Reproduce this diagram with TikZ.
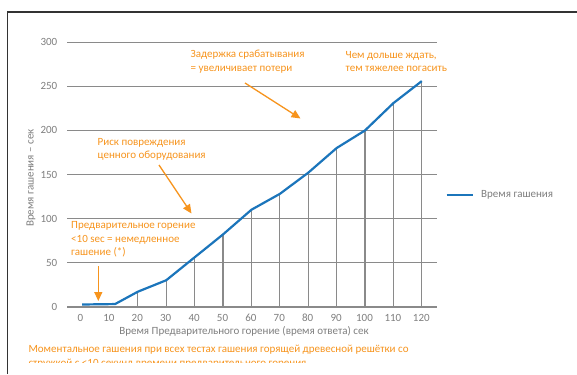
\documentclass[tikz,border=0pt]{standalone}
\usepackage{fontspec}
\setmainfont{Carlito}
\usetikzlibrary{arrows.meta}
\definecolor{orng}{HTML}{F7941D}
\definecolor{blu}{HTML}{1B75BB}
\definecolor{grd}{HTML}{8A8A8A}
\definecolor{lbl}{HTML}{7F7F7F}
\definecolor{frm}{HTML}{333333}
\tikzset{
  grid line/.style={draw=grd, line width=1.6pt},
  drop line/.style={draw=grd, line width=1.3pt},
  tick lab/.style={text=lbl, font=\fontsize{11}{13}\selectfont, inner sep=0pt},
  note/.style={text=orng, font=\fontsize{11}{13.3}\selectfont, align=left, anchor=west, inner sep=0pt},
  note arrow/.style={draw=orng, line width=1.3pt, -{Triangle[length=9pt,width=8pt]}},
  data line/.style={draw=blu, line width=2.2pt, line join=round}
}
\begin{document}
\begin{tikzpicture}[x=1pt,y=-1pt]
\useasboundingbox (0,0) rectangle (577,374);
\fill[white] (0,0) rectangle (577,374);
% frame
\draw[frm, line width=1.3pt] (7.5,374) -- (7.5,12) -- (577,12);
% horizontal grid lines and y labels
\foreach \v in {0,50,...,300}{
  \pgfmathsetmacro{\yy}{306.7-0.8813*\v}
  \draw[grid line] (67,\yy) -- (437,\yy);
  \node[tick lab, anchor=east] (y\v) at (57.5,\yy) {\v};
}
% x labels
\foreach \v in {0,10,...,120}{
  \pgfmathsetmacro{\xx}{80.5+2.84*\v}
  \node[tick lab] (x\v) at (\xx,317.7) {\v};
}
% data
\begin{scope}[shift={(81,306.7)}, x=2.84pt, y=0.8813pt]
  \foreach \px/\py in {20/17,30/30,40/56,50/82,60/110,70/128,80/152,90/180,100/200,110/231,120/256}{
    \draw[drop line] (\px,0) -- (\px,\py);
  }
  \draw[data line] (0.4,2.5) -- (12,3) -- (20,17) -- (30,30) -- (40,56) -- (50,82) -- (60,110) -- (70,128) -- (80,152) -- (90,180) -- (100,200) -- (110,231) -- (120,256);
\end{scope}
% axis titles
\node[tick lab, rotate=90] (ytitle) at (31,178) {Время гашения – сек};
\node[tick lab] (xtitle) at (244,331.7) {Время Предварительного горение (время ответа) сек};
% legend
\coordinate (lg1) at (446.5,194.7);
\coordinate (lg2) at (472.5,194.7);
\draw[data line] (lg1) -- (lg2);
\node[tick lab, anchor=west] (lgt) at (481,194.7) {Время гашения};
% notes
\node[note] (n1) at (190.5,61.5) {Задержка срабатывания\\= увеличивает потери};
\node[note] (n2) at (345.5,61.5) {Чем дольше ждать,\\тем тяжелее погасить};
\node[note] (n3) at (97.5,149.2) {Риск повреждения\\ценного оборудования};
\node[note] (n4) at (71,239.5) {Предварительное горение\\<10 sec = немедленное\\гашение (*)};
% arrows
\coordinate (a1s) at (245,83);  \coordinate (a1e) at (300.5,118.5);
\coordinate (a2s) at (159,165); \coordinate (a2e) at (191.5,213.5);
\coordinate (a3s) at (98.3,266); \coordinate (a3e) at (98.3,301);
\draw[note arrow] (a1s) -- (a1e);
\draw[note arrow] (a2s) -- (a2e);
\draw[note arrow] (a3s) -- (a3e);
% footnote (clipped)
\begin{scope}
  \clip (0,0) rectangle (577,362.7);
  \node[note] (fn) at (28.3,356.7) {Моментальное гашения при всех тестах гашения горящей древесной решётки со\\стружкой с <10 секунд времени предварительного горения};
\end{scope}
\end{tikzpicture}
\end{document}
